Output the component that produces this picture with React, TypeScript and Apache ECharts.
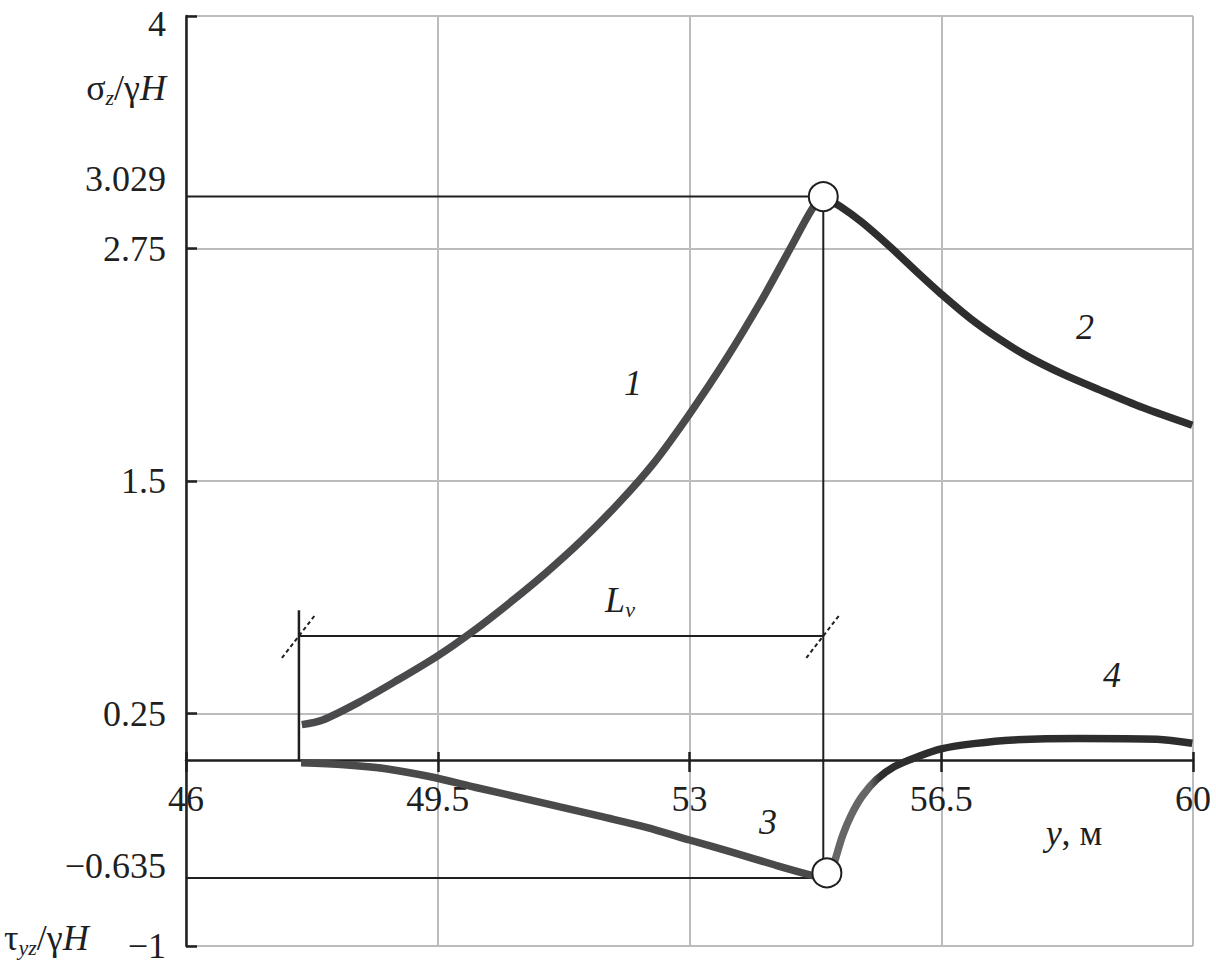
import { useEffect, useRef } from "react";
import * as echarts from "echarts";

// Axis ranges / ticks
const xMin = 46;
const xMax = 60;
const xStep = 3.5;
const yMin = -1;
const yMax = 4;
const yStep = 1.25;

// Key values
const peakX = 54.86;
const peakY = 3.029;
const troughY = -0.635;
const troughCircle: [number, number] = [54.91, -0.607];
const lvStartX = 47.57;
const lvY = 0.667;
const lvTopY = 0.805;

// Curve 1: sigma_z, left of peak
const curve1: [number, number][] = [
  [47.61, 0.19], [47.9, 0.215], [48.4, 0.31], [48.9, 0.42], [49.5, 0.56],
  [50.0, 0.695], [50.5, 0.845], [51.0, 1.005], [51.5, 1.18], [52.0, 1.375],
  [52.5, 1.595], [53.0, 1.86], [53.5, 2.15], [54.0, 2.47], [54.4, 2.75],
  [54.7, 2.96], [54.85, 3.029],
];
// Curve 2: sigma_z, right of peak
const curve2: [number, number][] = [
  [54.85, 3.029], [55.1, 2.975], [55.4, 2.89], [55.8, 2.755], [56.2, 2.61],
  [56.5, 2.505], [56.9, 2.375], [57.3, 2.265], [57.7, 2.17], [58.2, 2.073],
  [58.7, 1.99], [59.3, 1.895], [59.99, 1.8],
];
// Curve 3: tau_yz, left of trough
const curve3: [number, number][] = [
  [47.6, -0.015], [48.2, -0.025], [48.8, -0.048], [49.4, -0.09], [50.0, -0.145],
  [50.6, -0.198], [51.2, -0.252], [51.8, -0.306], [52.4, -0.362], [53.0, -0.43],
  [53.6, -0.497], [54.2, -0.566], [54.7, -0.62], [54.85, -0.632],
];
// Curve 4: tau_yz, right of trough
const curve4: [number, number][] = [
  [54.95, -0.63], [55.03, -0.53], [55.13, -0.405], [55.25, -0.295], [55.4, -0.195],
  [55.6, -0.105], [55.85, -0.035], [56.2, 0.022], [56.5, 0.06], [56.95, 0.088],
  [57.5, 0.108], [58.4, 0.116], [59.5, 0.112], [59.99, 0.09],
];

const refH1: [number, number][] = [[xMin, peakY], [peakX, peakY]];
const refV: [number, number][] = [[peakX, peakY], [peakX, troughY]];
const refH2: [number, number][] = [[xMin, troughY], [peakX, troughY]];
const dimV: [number, number][] = [[lvStartX, 0], [lvStartX, lvTopY]];
const dimH: [number, number][] = [[lvStartX, lvY], [peakX, lvY]];
const circles: [number, number][] = [[peakX, peakY], troughCircle];

const FONT = "'Liberation Serif', 'DejaVu Serif', serif";
const INK = "#1f1f1f";
const GRID = "#bcbcbc";
const FS = 36;

const W = 1216;
const H = 968;
const G_LEFT = 186;
const G_RIGHT = 23;
const G_TOP = 16;
const G_BOTTOM = 22;

const fmt = (v: number) => (v < 0 ? "\u2212" + Math.abs(v) : String(v));

export default function App() {
  const ref = useRef<HTMLDivElement>(null);

  useEffect(() => {
    document.body.style.margin = "0";
    const chart = echarts.init(ref.current!, undefined, { renderer: "svg" });

    const plotH = H - G_TOP - G_BOTTOM;
    const zeroH = (plotH * (yMax - 0)) / (yMax - yMin);

    const refLine = (data: [number, number][], w = 2) => ({
      type: "line",
      data,
      showSymbol: false,
      silent: true,
      z: 3,
      lineStyle: { color: INK, width: w },
    });
    const curve = (data: [number, number][], color: any, z = 4) => ({
      type: "line",
      data,
      showSymbol: false,
      smooth: 0.3,
      z,
      lineStyle: { color, width: 7.5, cap: "butt" },
    });

    const baseGrid = { left: G_LEFT, right: G_RIGHT, containLabel: false, outerBoundsMode: "none" };
    const xBase = { type: "value", min: xMin, max: xMax, interval: xStep };

    chart.setOption({
      animation: false,
      grid: [
        { ...baseGrid, top: G_TOP, bottom: G_BOTTOM },
        { ...baseGrid, top: G_TOP, height: zeroH },
        { ...baseGrid, top: G_TOP, height: zeroH },
      ],
      xAxis: [
        {
          ...xBase,
          gridIndex: 0,
          axisLine: { show: false },
          axisTick: { show: false },
          axisLabel: { show: false },
          splitLine: { show: true, lineStyle: { color: GRID, width: 2 } },
        },
        {
          ...xBase,
          gridIndex: 1,
          position: "bottom",
          axisLine: { show: true, onZero: false, lineStyle: { color: INK, width: 2.5 } },
          axisTick: { show: true, length: 12, lineStyle: { color: INK, width: 2.5 } },
          axisLabel: {
            fontSize: FS,
            fontFamily: FONT,
            color: INK,
            margin: 21,
            formatter: (v: number) => fmt(v),
          },
          splitLine: { show: false },
        },
        {
          ...xBase,
          gridIndex: 2,
          position: "bottom",
          axisLine: { show: false, onZero: false },
          axisTick: { show: true, inside: true, length: 8, lineStyle: { color: INK, width: 2.5 } },
          axisLabel: { show: false },
          splitLine: { show: false },
        },
      ],
      yAxis: [
        {
          type: "value",
          gridIndex: 0,
          min: yMin,
          max: yMax,
          interval: yStep,
          axisLine: { show: true, onZero: false, lineStyle: { color: INK, width: 2.5 } },
          axisTick: { show: true, inside: true, length: 11, lineStyle: { color: INK, width: 2.5 } },
          axisLabel: {
            fontSize: FS,
            fontFamily: FONT,
            color: INK,
            margin: 20,
            formatter: (v: number) =>
              Math.abs(v - yMax) < 1e-9 ? "{top|" + fmt(v) + "}" : fmt(v),
            rich: {
              top: { fontSize: FS, fontFamily: FONT, color: INK, padding: [16, 0, 0, 0] },
            },
          },
          splitLine: { show: true, lineStyle: { color: GRID, width: 2 } },
        },
        { type: "value", gridIndex: 1, min: 0, max: yMax, show: false },
        { type: "value", gridIndex: 2, min: 0, max: yMax, show: false },
      ],
      series: [
        refLine(refH1),
        refLine(refV),
        refLine(refH2),
        refLine(dimV, 2.5),
        refLine(dimH),
        curve(curve1, "#4a4a4c"),
        curve(curve2, "#2e2e2e"),
        curve(curve3, "#4a4a4a"),
        curve(
          curve4,
          new echarts.graphic.LinearGradient(0, 0, 1, 0, [
            { offset: 0, color: "#666666" },
            { offset: 0.11, color: "#666666" },
            { offset: 0.14, color: "#2d2d2d" },
            { offset: 1, color: "#2d2d2d" },
          ])
        ),
        {
          type: "scatter",
          data: circles,
          symbol: "circle",
          symbolSize: 29,
          z: 6,
          itemStyle: { color: "#ffffff", opacity: 1, borderColor: INK, borderWidth: 2 },
        },
      ],
    });

    const p = (x: number, y: number) =>
      chart.convertToPixel({ gridIndex: 0 }, [x, y]) as number[];

    const lvL = p(lvStartX, lvY);
    const lvR = p(peakX, lvY);
    const slash = (c: number[]) => ({
      type: "line",
      z: 10,
      shape: { x1: c[0] - 17, y1: c[1] + 22, x2: c[0] + 17, y2: c[1] - 22 },
      style: { stroke: INK, lineWidth: 2, lineDash: [4, 3] },
    });

    const axisX = p(xMin, 0)[0];
    const lblRight = axisX - 20;
    const yPeak = p(xMin, peakY)[1];
    const yTrough = p(xMin, troughY)[1];

    const base = { fontSize: FS, fontFamily: FONT, fill: INK };
    const richSet = {
      r: { fontSize: FS, fontFamily: FONT, color: INK, lineHeight: 40 },
      i: { fontSize: FS, fontFamily: FONT, fontStyle: "italic", color: INK, lineHeight: 40 },
      s: {
        fontSize: 22,
        fontFamily: FONT,
        fontStyle: "italic",
        color: INK,
        lineHeight: 22,
        verticalAlign: "bottom",
      },
    };
    const txt = (text: string, x: number, y: number, align = "center", italic = false) => ({
      type: "text",
      x,
      y,
      z: 10,
      style: {
        ...base,
        text,
        fontStyle: italic ? "italic" : "normal",
        align,
        verticalAlign: "middle",
      },
    });
    const rtxt = (text: string, x: number, y: number, align = "center") => ({
      type: "text",
      x,
      y,
      z: 10,
      style: { text, rich: richSet, align, verticalAlign: "middle", fill: INK },
    });

    chart.setOption({
      graphic: [
        slash(lvL),
        slash(lvR),
        txt("3.029", lblRight, yPeak - 18, "right"),
        txt("\u22120.635", lblRight, yTrough - 12, "right"),
        rtxt("{r|σ}{s|z}{r|/γ}{i|H}", lblRight, 88, "right"),
        rtxt("{r|τ}{s|yz}{r|/γ}{i|H}", 4, 938, "left"),
        txt("1", 633, 383, "center", true),
        txt("2", 1085, 327, "center", true),
        txt("3", 768, 822, "center", true),
        txt("4", 1112, 675, "center", true),
        rtxt("{i|L}{s|v}", 620, 600, "center"),
        rtxt("{i|y}{r|, м}", 1074, 833, "center"),
      ],
    });

    return () => chart.dispose();
  }, []);

  return (
    <div
      ref={ref}
      style={{ position: "absolute", left: 0, top: 0, width: W, height: H }}
    />
  );
}
